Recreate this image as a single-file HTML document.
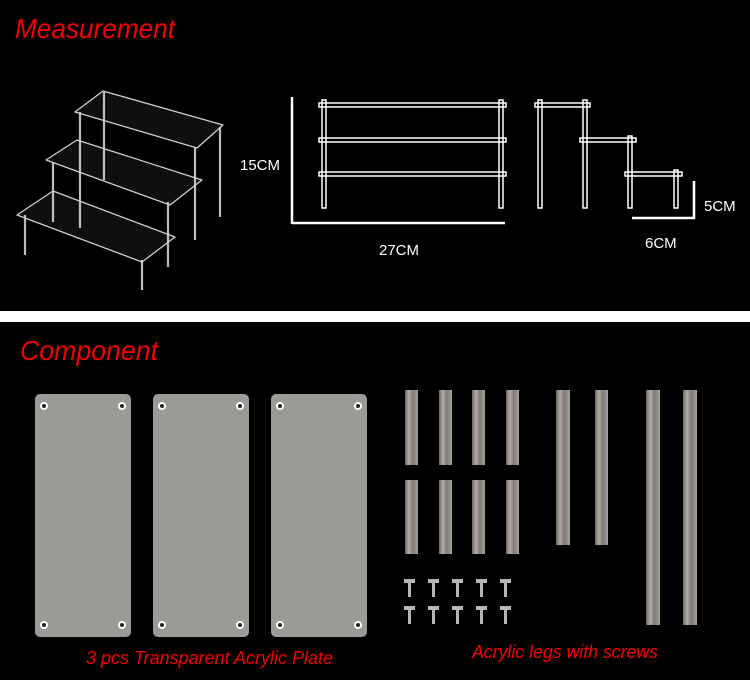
<!DOCTYPE html>
<html><head><meta charset="utf-8"><style>
html,body{margin:0;padding:0;background:#000;}
svg{display:block}
text{font-family:"Liberation Sans",sans-serif;}
</style></head><body>
<svg width="750" height="680" viewBox="0 0 750 680" xmlns="http://www.w3.org/2000/svg">
<rect width="750" height="680" fill="#000"/>
<rect x="0" y="311" width="750" height="11" fill="#fff"/>
<text x="15" y="38" font-size="28" font-style="italic" fill="#f00000" textLength="160" lengthAdjust="spacingAndGlyphs">Measurement</text>
<text x="20" y="360" font-size="28" font-style="italic" fill="#f00000" textLength="138" lengthAdjust="spacingAndGlyphs">Component</text>

<!-- 3D stand -->
<g stroke="#bdbdbd" stroke-width="2.2" fill="none">
<line x1="104" y1="92" x2="104" y2="180"/>
<line x1="80" y1="112" x2="80" y2="228"/>
<line x1="220" y1="127" x2="220" y2="217"/>
<line x1="195" y1="147" x2="195" y2="240"/>
<line x1="53" y1="163" x2="53" y2="222"/>
<line x1="168" y1="202" x2="168" y2="267"/>
<line x1="25" y1="215" x2="25" y2="255"/>
<line x1="142" y1="260" x2="142" y2="290"/>
</g>
<g fill="rgba(255,255,255,0.06)" stroke="#d0d0d0" stroke-width="1.3" stroke-linejoin="round">
<polygon points="103,91 223,125 197,148 75,112"/>
<polygon points="77,140 202,180 170,205 46,160"/>
<polygon points="53,191 175,237 142,262 17,215"/>
</g>

<!-- front view -->
<g stroke="#fff" fill="none">
<line x1="292" y1="97" x2="292" y2="224" stroke-width="2.5"/>
<line x1="292" y1="223" x2="505" y2="223" stroke-width="2.5"/>
<g stroke-width="1.5">
<rect x="319" y="103" width="187" height="4"/>
<rect x="319" y="138" width="187" height="4"/>
<rect x="319" y="172" width="187" height="4"/>
<rect x="322" y="100" width="4" height="108"/>
<rect x="499" y="100" width="4" height="108"/>
<rect x="535" y="103" width="55" height="4"/>
<rect x="580" y="138" width="56" height="4"/>
<rect x="625" y="172" width="57" height="4"/>
<rect x="538" y="100" width="4" height="108"/>
<rect x="583" y="100" width="4" height="108"/>
<rect x="628" y="136" width="4" height="72"/>
<rect x="674" y="170" width="4" height="38"/>
</g>
<line x1="694" y1="181" x2="694" y2="219" stroke-width="2.5"/>
<line x1="632" y1="218" x2="695" y2="218" stroke-width="2.5"/>
</g>
<g fill="#fff" font-size="15">
<text x="240" y="170">15CM</text>
<text x="379" y="255">27CM</text>
<text x="704" y="211">5CM</text>
<text x="645" y="248">6CM</text>
</g>

<!-- plates -->
<g fill="#9c9a96">
<rect x="35" y="394" width="96" height="243" rx="5"/>
<rect x="153" y="394" width="96" height="243" rx="5"/>
<rect x="271" y="394" width="96" height="243" rx="5"/>
</g>
<g fill="#222" stroke="#fff" stroke-width="2">
<circle cx="44" cy="406" r="3"/><circle cx="122" cy="406" r="3"/><circle cx="44" cy="625" r="3"/><circle cx="122" cy="625" r="3"/>
<circle cx="162" cy="406" r="3"/><circle cx="240" cy="406" r="3"/><circle cx="162" cy="625" r="3"/><circle cx="240" cy="625" r="3"/>
<circle cx="280" cy="406" r="3"/><circle cx="358" cy="406" r="3"/><circle cx="280" cy="625" r="3"/><circle cx="358" cy="625" r="3"/>
</g>

<!-- legs -->
<defs>
<linearGradient id="lg" x1="0" x2="1">
<stop offset="0" stop-color="#6a6661"/><stop offset="0.3" stop-color="#b0aca6"/><stop offset="0.6" stop-color="#7e7a75"/><stop offset="1" stop-color="#a5a19b"/>
</linearGradient>
</defs>
<g fill="url(#lg)">
<rect x="405" y="390" width="13" height="75"/><rect x="439" y="390" width="13" height="75"/><rect x="472" y="390" width="13" height="75"/><rect x="506" y="390" width="13" height="75"/>
<rect x="405" y="480" width="13" height="74"/><rect x="439" y="480" width="13" height="74"/><rect x="472" y="480" width="13" height="74"/><rect x="506" y="480" width="13" height="74"/>
<rect x="556" y="390" width="14" height="155"/><rect x="595" y="390" width="13" height="155"/>
<rect x="646" y="390" width="14" height="235"/><rect x="683" y="390" width="14" height="235"/>
</g>
<g fill="#b8b5b0">
<rect x="404" y="579" width="11" height="4"/><rect x="408" y="582" width="3" height="15"/>
<rect x="428" y="579" width="11" height="4"/><rect x="432" y="582" width="3" height="15"/>
<rect x="452" y="579" width="11" height="4"/><rect x="456" y="582" width="3" height="15"/>
<rect x="476" y="579" width="11" height="4"/><rect x="480" y="582" width="3" height="15"/>
<rect x="500" y="579" width="11" height="4"/><rect x="504" y="582" width="3" height="15"/>
<rect x="404" y="606" width="11" height="4"/><rect x="408" y="609" width="3" height="15"/>
<rect x="428" y="606" width="11" height="4"/><rect x="432" y="609" width="3" height="15"/>
<rect x="452" y="606" width="11" height="4"/><rect x="456" y="609" width="3" height="15"/>
<rect x="476" y="606" width="11" height="4"/><rect x="480" y="609" width="3" height="15"/>
<rect x="500" y="606" width="11" height="4"/><rect x="504" y="609" width="3" height="15"/>
</g>

<text x="86" y="664" font-size="18" font-style="italic" fill="#f00000" textLength="247" lengthAdjust="spacingAndGlyphs">3 pcs Transparent Acrylic Plate</text>
<text x="472" y="658" font-size="18" font-style="italic" fill="#f00000" textLength="186" lengthAdjust="spacingAndGlyphs">Acrylic legs with screws</text>
</svg>
</body></html>
